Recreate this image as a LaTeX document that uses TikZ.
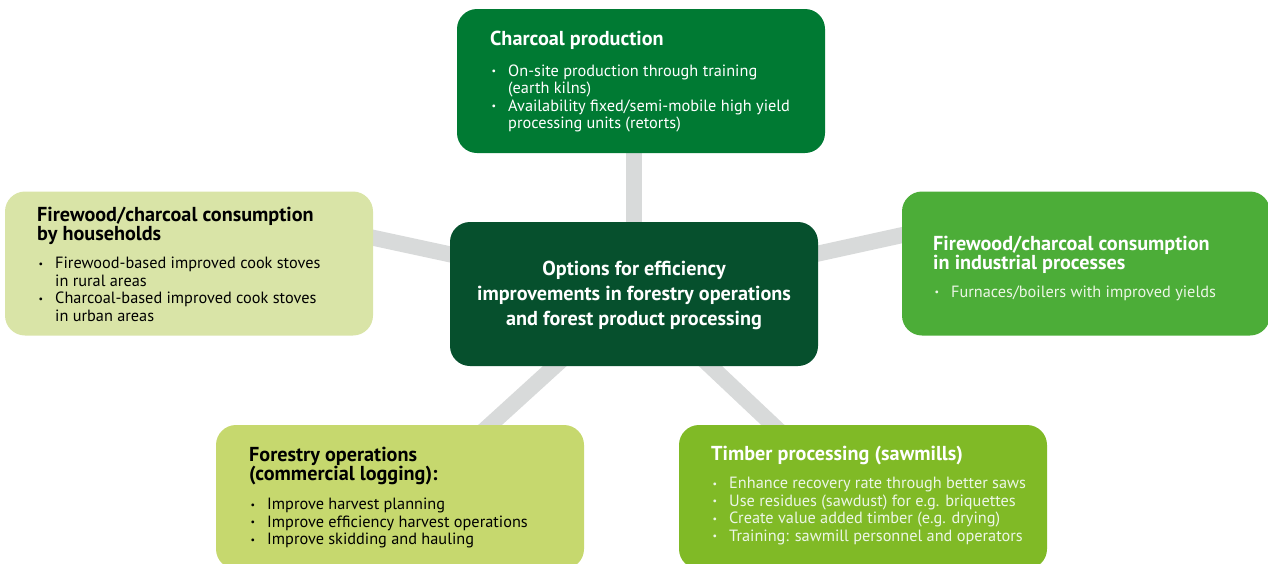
\documentclass[tikz,border=0pt]{standalone}
\usepackage{fontspec}
\setmainfont{PT Sans}
\usetikzlibrary{backgrounds}
\definecolor{topGreen}{RGB}{0,122,51}
\definecolor{ctrGreen}{RGB}{6,80,45}
\definecolor{leftFill}{RGB}{217,228,167}
\definecolor{rightFill}{RGB}{76,173,56}
\definecolor{blFill}{RGB}{198,216,110}
\definecolor{brFill}{RGB}{128,186,38}
\definecolor{connGray}{RGB}{216,218,218}
\definecolor{lightText}{RGB}{236,246,230}
\newcommand\titlefnt{\fontsize{20.2}{17.5}\selectfont\bfseries}
\newcommand\bodyfnt{\fontsize{16.3}{17.5}\selectfont}
\newcommand\ctrfnt{\fontsize{20.2}{25}\selectfont\bfseries}
\newcommand\bul{\makebox[18pt][l]{\hspace{1.5pt}\raisebox{1.3pt}{\fontsize{10}{10}\selectfont\textbullet}}}
\begin{document}
\begin{tikzpicture}[x=1pt,y=-1pt,
  box/.style={rounded corners=20pt, minimum width=368pt, minimum height=144pt, inner sep=0pt, draw=none},
  conn/.style={line width=16pt, draw=connGray},
  ttl/.style={anchor=base west, inner sep=0pt, font=\titlefnt},
  bdy/.style={anchor=base west, inner sep=0pt, font=\bodyfnt}]
\useasboundingbox (0,0) rectangle (1268,563);
\clip (0,0) rectangle (1268,563);
% boxes
\node[box, fill=topGreen] (top) at (641,81) {};
\node[box, fill=leftFill] (left) at (189,263.5) {};
\node[box, fill=rightFill] (right) at (1086,263.5) {};
\node[box, fill=ctrGreen] (ctr) at (634,294) {};
\node[box, fill=blFill] (bl) at (400,497) {};
\node[box, fill=brFill] (br) at (863,497) {};
% connector ends
\coordinate (pT) at (634,81);
\coordinate (pL) at (300,222);
\coordinate (pR) at (980,218);
\coordinate (pBL) at (434,476);
\coordinate (pBR) at (828,477);
\begin{scope}[on background layer]
\draw[conn] (ctr.center) -- (pT);
\draw[conn] (ctr.center) -- (pL);
\draw[conn] (ctr.center) -- (pR);
\draw[conn] (ctr.center) -- (pBL);
\draw[conn] (ctr.center) -- (pBR);
\end{scope}
% top box text
\node[ttl, text=white] (topT) at (490,45) {Charcoal production};
\node[bdy, text=white] (topB) at (490,76) {\begin{tabular}[t]{@{}l@{}l@{}}
\bul & On-site production through training\\
 & (earth kilns)\\
\bul & Availability fixed/semi-mobile high yield\\
 & processing units (retorts)
\end{tabular}};
% left box text
\node[ttl, text=black] (leftT) at (37,221) {\begin{tabular}[t]{@{}l@{}}Firewood/charcoal consumption\\by households\end{tabular}};
\node[bdy, text=black] (leftB) at (37,268.5) {\begin{tabular}[t]{@{}l@{}l@{}}
\bul & Firewood-based improved cook stoves\\
 & in rural areas\\
\bul & Charcoal-based improved cook stoves\\
 & in urban areas
\end{tabular}};
% right box text
\node[ttl, text=white] (rightT) at (933,250) {\begin{tabular}[t]{@{}l@{}}Firewood/charcoal consumption\\in industrial processes\end{tabular}};
\node[bdy, text=lightText] (rightB) at (933,297) {\begin{tabular}[t]{@{}l@{}l@{}}
\bul & Furnaces/boilers with improved yields
\end{tabular}};
% centre text
\node[anchor=base, inner sep=0pt, font=\ctrfnt, text=white] (ctrT) at (634,275) {\begin{tabular}[t]{@{}c@{}}Options for efficiency\\improvements in forestry operations\\and forest product processing\end{tabular}};
% bottom left text
\node[ttl, text=black] (blT) at (249,461) {\begin{tabular}[t]{@{}l@{}}Forestry operations\\(commercial logging):\end{tabular}};
\node[bdy, text=black] (blB) at (249,509.5) {\begin{tabular}[t]{@{}l@{}l@{}}
\bul & Improve harvest planning\\
\bul & Improve efficiency harvest operations\\
\bul & Improve skidding and hauling
\end{tabular}};
% bottom right text
\node[ttl, text=white] (brT) at (711,460) {Timber processing (sawmills)};
\node[bdy, text=lightText] (brB) at (711,488.5) {\begin{tabular}[t]{@{}l@{}l@{}}
\bul & Enhance recovery rate through better saws\\
\bul & Use residues (sawdust) for e.g. briquettes\\
\bul & Create value added timber (e.g. drying)\\
\bul & Training: sawmill personnel and operators
\end{tabular}};
\end{tikzpicture}
\end{document}
